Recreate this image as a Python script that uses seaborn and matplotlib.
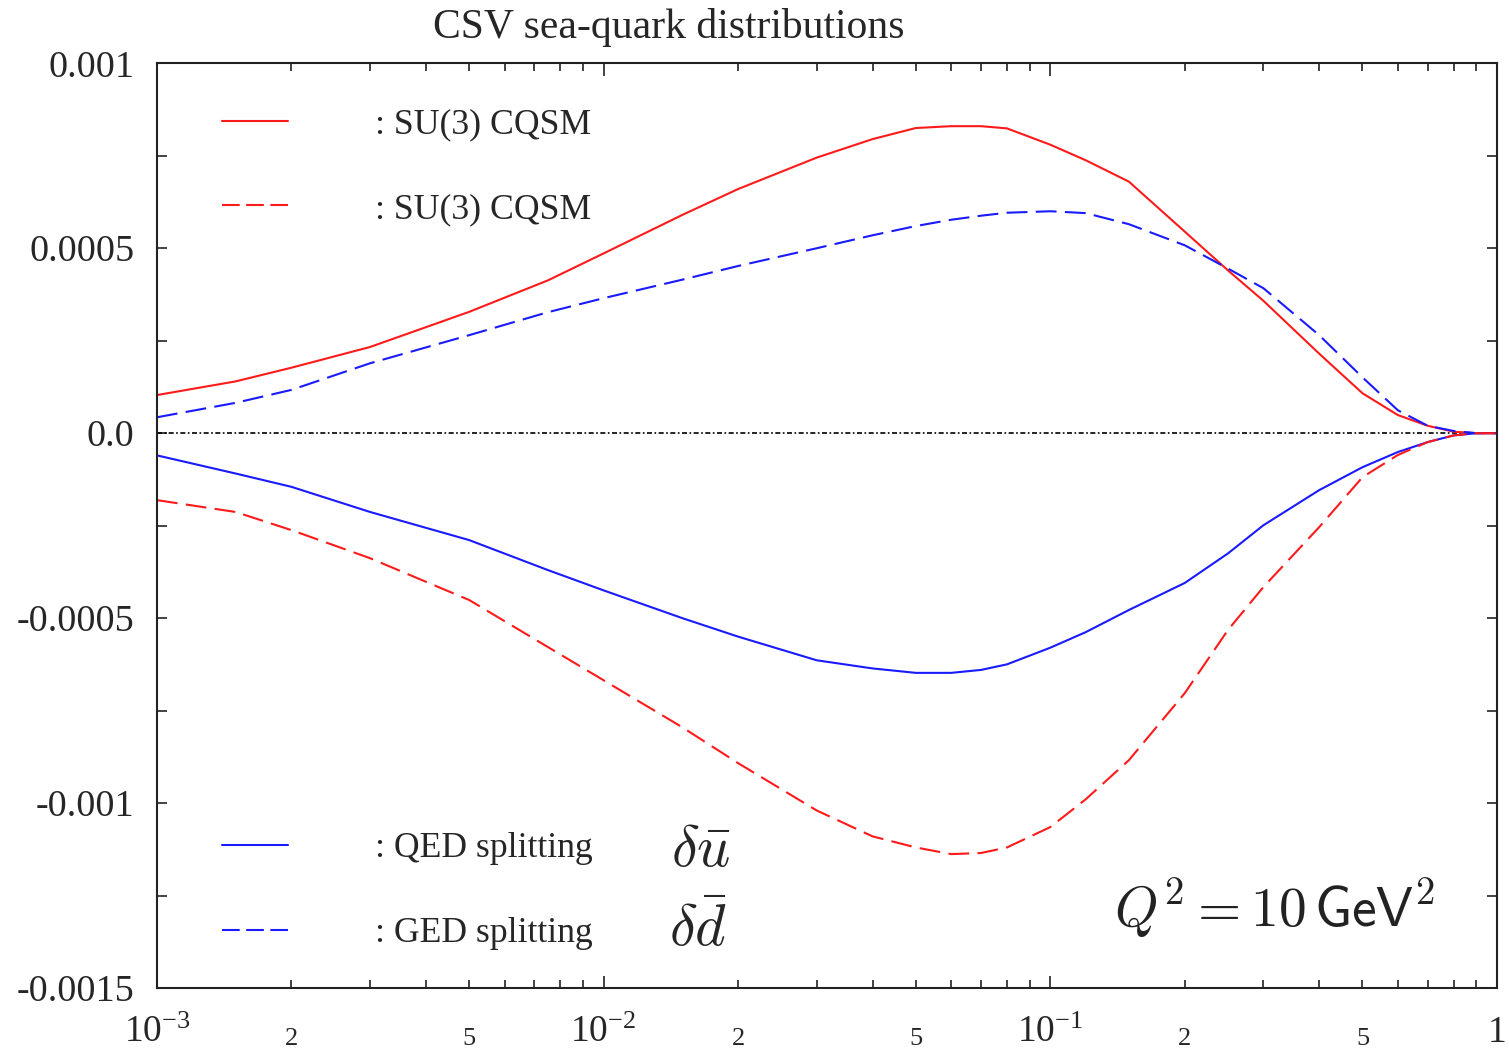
import numpy as np
import pandas as pd
import matplotlib
matplotlib.use("Agg")
import matplotlib.pyplot as plt
from matplotlib.lines import Line2D
from matplotlib.ticker import FixedLocator, FuncFormatter
import seaborn as sns

# Bjorken x grid shared by all curves
x_vals = [0.001, 0.0015, 0.002, 0.003, 0.005, 0.0075, 0.01, 0.015, 0.02, 0.03,
          0.04, 0.05, 0.06, 0.07, 0.08, 0.1, 0.12, 0.15, 0.2, 0.25, 0.3, 0.4,
          0.5, 0.6, 0.7, 0.8, 0.9, 1.0]

# CQSM, solid red (delta u-bar)
cqsm_ubar = [0.000103, 0.000140, 0.000177, 0.000233, 0.000328, 0.000413, 0.000486,
             0.000590, 0.000660, 0.000745, 0.000795, 0.000825, 0.000830, 0.000830,
             0.000824, 0.000780, 0.000738, 0.000680, 0.000545, 0.000440, 0.000358,
             0.000215, 0.000108, 0.000049, 0.000020, 0.000004, 0.0, 0.0]

# QED splitting, dashed blue (delta d-bar)
qed_dbar = [0.000043, 0.000082, 0.000117, 0.000189, 0.000265, 0.000327, 0.000365,
            0.000415, 0.000452, 0.000500, 0.000535, 0.000560, 0.000577, 0.000588,
            0.000596, 0.000600, 0.000595, 0.000565, 0.000508, 0.000445, 0.000392,
            0.000265, 0.000151, 0.000062, 0.000020, 0.000006, 0.0, 0.0]

# QED splitting, solid blue (delta u-bar)
qed_ubar = [-0.000060, -0.000109, -0.000145, -0.000213, -0.000289, -0.000370, -0.000425,
            -0.000500, -0.000550, -0.000614, -0.000636, -0.000648, -0.000648, -0.000640,
            -0.000625, -0.000580, -0.000538, -0.000478, -0.000405, -0.000325, -0.000249,
            -0.000154, -0.000092, -0.000051, -0.000024, -0.000006, 0.0, 0.0]

# CQSM, dashed red (delta d-bar)
cqsm_dbar = [-0.000181, -0.000213, -0.000262, -0.000338, -0.000451, -0.000578, -0.000668,
             -0.000795, -0.000892, -0.001020, -0.001090, -0.001120, -0.001138, -0.001135,
             -0.001120, -0.001065, -0.000990, -0.000884, -0.000703, -0.000532, -0.000416,
             -0.000254, -0.000119, -0.000059, -0.000024, -0.000006, 0.0, 0.0]

y_ticks = [0.001, 0.0005, 0.0, -0.0005, -0.001, -0.0015]
y_tick_labels = ["0.001", "0.0005", "0.0", "-0.0005", "-0.001", "-0.0015"]

sns.set_style("ticks")
plt.rcParams["font.family"] = ["Liberation Serif", "DejaVu Serif"]
plt.rcParams["mathtext.fontset"] = "stix"

RED = "#ff1a1a"
BLUE = "#1a1aff"
LW = 1.5
DASH = (0, (10, 4))
LEG_DASH = (0, (8.5, 3.1))

fig = plt.figure(figsize=(15.09, 10.55), dpi=100)
ax = fig.add_axes([0.104, 0.0635, 0.888, 0.8765])

df = pd.DataFrame({"x": x_vals, "cqsm_ubar": cqsm_ubar, "qed_dbar": qed_dbar,
                   "qed_ubar": qed_ubar, "cqsm_dbar": cqsm_dbar})

ax.axhline(0.0, color="black", lw=1.2, ls=(0, (3, 1.5, 1, 1.5)), zorder=1)
sns.lineplot(data=df, x="x", y="cqsm_ubar", ax=ax, color=RED, lw=LW, estimator=None, sort=False)
sns.lineplot(data=df, x="x", y="qed_dbar", ax=ax, color=BLUE, lw=LW, ls=DASH, estimator=None, sort=False)
sns.lineplot(data=df, x="x", y="qed_ubar", ax=ax, color=BLUE, lw=LW, estimator=None, sort=False)
sns.lineplot(data=df, x="x", y="cqsm_dbar", ax=ax, color=RED, lw=LW, ls=DASH, estimator=None, sort=False)

ax.set_xscale("log")
ax.set_xlim(1e-3, 1.0)
ax.set_ylim(-0.0015, 0.001)
ax.set_xlabel("")
ax.set_ylabel("")

# axes frame and ticks
for sp in ax.spines.values():
    sp.set_visible(True)
    sp.set_color("#222222")
    sp.set_linewidth(1.5)

ax.set_yticks(y_ticks)
ax.set_yticklabels(y_tick_labels)
ax.yaxis.set_minor_locator(FixedLocator([0.00075, 0.00025, -0.00025, -0.00075, -0.00125]))

major_x = [1e-3, 1e-2, 1e-1, 1.0]
ax.xaxis.set_major_locator(FixedLocator(major_x))
ax.xaxis.set_major_formatter(FuncFormatter(
    lambda v, p: "1" if v >= 1 else r"$\mathregular{10^{%d}}$" % int(round(np.log10(v)))))
minor_x = [m * 10.0 ** e for e in (-3, -2, -1) for m in range(2, 10)]
ax.xaxis.set_minor_locator(FixedLocator(minor_x))


def minor_label(v, p):
    mant = int(round(v / 10.0 ** np.floor(np.log10(v) + 1e-9)))
    return str(mant) if mant in (2, 5) else ""


ax.xaxis.set_minor_formatter(FuncFormatter(minor_label))

ax.tick_params(axis="both", which="both", direction="in", top=True, right=True,
               color="#222222", width=1.2)
ax.tick_params(axis="x", which="major", length=9, labelsize=27, pad=20)
ax.tick_params(axis="x", which="minor", length=6, labelsize=19, pad=29)
ax.tick_params(axis="y", which="major", length=7, labelsize=27.5, pad=16)
ax.tick_params(axis="y", which="minor", length=7)

# legends
leg_font = 25.7
h_top = [Line2D([], [], color=RED, lw=LW), Line2D([], [], color=RED, lw=LW, ls=LEG_DASH)]
leg1 = ax.legend(h_top, [": SU(3) CQSM", ": SU(3) CQSM"], loc="center left",
                 bbox_to_anchor=(0.0485, 0.8878), frameon=False, fontsize=leg_font,
                 handlelength=1.85, handletextpad=2.45, labelspacing=1.45,
                 borderpad=0, borderaxespad=0)
ax.add_artist(leg1)
h_bot = [Line2D([], [], color=BLUE, lw=LW), Line2D([], [], color=BLUE, lw=LW, ls=LEG_DASH)]
ax.legend(h_bot, [": QED splitting", ": GED splitting"], loc="center left",
          bbox_to_anchor=(0.0485, 0.1046), frameon=False, fontsize=leg_font,
          handlelength=1.85, handletextpad=2.45, labelspacing=1.45,
          borderpad=0, borderaxespad=0)

ax.text(0.384, 0.147, r"$\delta\bar{u}$", transform=ax.transAxes, fontsize=42,
        ha="left", va="center", math_fontfamily="cm")
ax.text(0.382, 0.062, r"$\delta\bar{d}$", transform=ax.transAxes, fontsize=42,
        ha="left", va="center", math_fontfamily="cm")
ax.text(0.714, 0.086, r"$Q^2 = \mathsf{10\,GeV}^2$", transform=ax.transAxes,
        fontsize=40, ha="left", va="center", math_fontfamily="cm", color="#222222")

fig.text(0.443, 0.974, "CSV sea-quark distributions", ha="center", va="center", fontsize=30)

fig.savefig("out.png", dpi=100)
